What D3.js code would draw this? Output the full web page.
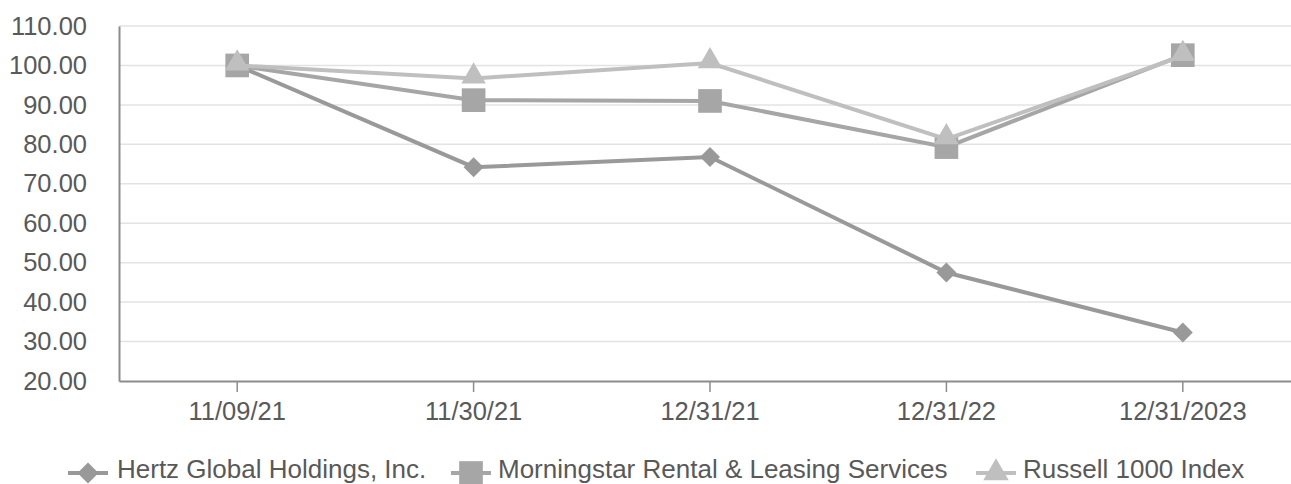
<!DOCTYPE html>
<html>
<head>
<meta charset="utf-8">
<script src="https://cdn.jsdelivr.net/npm/d3@7"></script>
<style>
  body { margin: 0; background: #fff; }
  svg text { font-family: "Liberation Sans", Arial, sans-serif; fill: #595959; }
</style>
</head>
<body>
<div id="chart"></div>
<script>
// chart data
const categories = ['11/09/21', '11/30/21', '12/31/21', '12/31/22', '12/31/2023'];
const hertz = [100.0, 74.2, 76.8, 47.5, 32.3];
const morningstar = [100.0, 91.2, 91.0, 79.3, 102.6];
const russell = [100.0, 96.7, 100.6, 81.3, 102.4];
const yTicks = [20, 30, 40, 50, 60, 70, 80, 90, 100, 110];
const seriesNames = ['Hertz Global Holdings, Inc.', 'Morningstar Rental & Leasing Services', 'Russell 1000 Index'];

const width = 1291, height = 484;
const margin = { top: 26, right: -10, bottom: 103, left: 119 };

const series = [
  { name: seriesNames[0], values: hertz, color: '#999999', shape: 'diamond' },
  { name: seriesNames[1], values: morningstar, color: '#a6a6a6', shape: 'square' },
  { name: seriesNames[2], values: russell, color: '#bfbfbf', shape: 'triangle' }
];

const svg = d3.select('#chart')
  .append('svg')
  .attr('width', width)
  .attr('height', height);

const x = d3.scaleBand()
  .domain(categories)
  .range([margin.left, width - margin.right]);

const y = d3.scaleLinear()
  .domain([20, 110])
  .range([height - margin.bottom, margin.top]);

// gridlines
svg.append('g')
  .selectAll('line')
  .data(yTicks.slice(1))
  .enter()
  .append('line')
  .attr('x1', margin.left)
  .attr('x2', width - margin.right)
  .attr('y1', d => y(d))
  .attr('y2', d => y(d))
  .attr('stroke', '#e3e3e3')
  .attr('stroke-width', 1.5);

// y axis
const yAxis = svg.append('g')
  .attr('transform', `translate(${margin.left},0)`)
  .call(d3.axisLeft(y).tickValues(yTicks).tickFormat(d3.format('.2f')).tickSize(0).tickPadding(32));
yAxis.select('.domain').attr('stroke', '#8c8c8c').attr('stroke-width', 2);
yAxis.selectAll('text').attr('font-size', 25.5).style('fill', '#595959');

// x axis
const xAxis = svg.append('g')
  .attr('transform', `translate(0,${y(20)})`)
  .call(d3.axisBottom(x).tickSize(11).tickSizeOuter(0).tickPadding(10));
xAxis.select('.domain').attr('stroke', '#8c8c8c').attr('stroke-width', 2);
xAxis.selectAll('.tick line').attr('stroke', '#8c8c8c').attr('stroke-width', 1.5);
xAxis.selectAll('text').attr('font-size', 25.5).style('fill', '#595959');

const cx = c => x(c) + x.bandwidth() / 2;

const symbolFor = {
  diamond: d3.symbol().type(d3.symbolSquare).size(200),
  square: d3.symbol().type(d3.symbolSquare).size(560),
  triangle: d3.symbol().type(d3.symbolTriangle).size(260)
};

const line = d3.line()
  .x((d, i) => cx(categories[i]))
  .y(d => y(d));

series.forEach(s => {
  svg.append('path')
    .datum(s.values)
    .attr('fill', 'none')
    .attr('stroke', s.color)
    .attr('stroke-width', 4)
    .attr('d', line);

  svg.append('g')
    .selectAll('path')
    .data(s.values)
    .enter()
    .append('path')
    .attr('d', symbolFor[s.shape])
    .attr('transform', (d, i) => `translate(${cx(categories[i])},${y(d) + (s.shape === 'triangle' ? -2 : 0)})` + (s.shape === 'diamond' ? ' rotate(45)' : ''))
    .attr('fill', s.color);
});

// legend
const legendItems = [
  { x: 68, tx: 117 },
  { x: 451, tx: 498 },
  { x: 976, tx: 1023 }
];
const legendSymbol = {
  diamond: d3.symbol().type(d3.symbolSquare).size(220),
  square: d3.symbol().type(d3.symbolSquare).size(560),
  triangle: d3.symbol().type(d3.symbolTriangle).size(280)
};
const legend = svg.append('g');
series.forEach((s, i) => {
  const g = legend.append('g').attr('transform', `translate(${legendItems[i].x},473)`);
  g.append('line')
    .attr('x1', 0).attr('x2', 40)
    .attr('stroke', s.color).attr('stroke-width', 4);
  g.append('path')
    .attr('d', legendSymbol[s.shape])
    .attr('transform', 'translate(20,0)' + (s.shape === 'diamond' ? ' rotate(45)' : ''))
    .attr('fill', s.color);
  g.append('text')
    .attr('x', legendItems[i].tx - legendItems[i].x)
    .attr('y', 5)
    .attr('font-size', 26)
    .text(s.name);
});
</script>
</body>
</html>
